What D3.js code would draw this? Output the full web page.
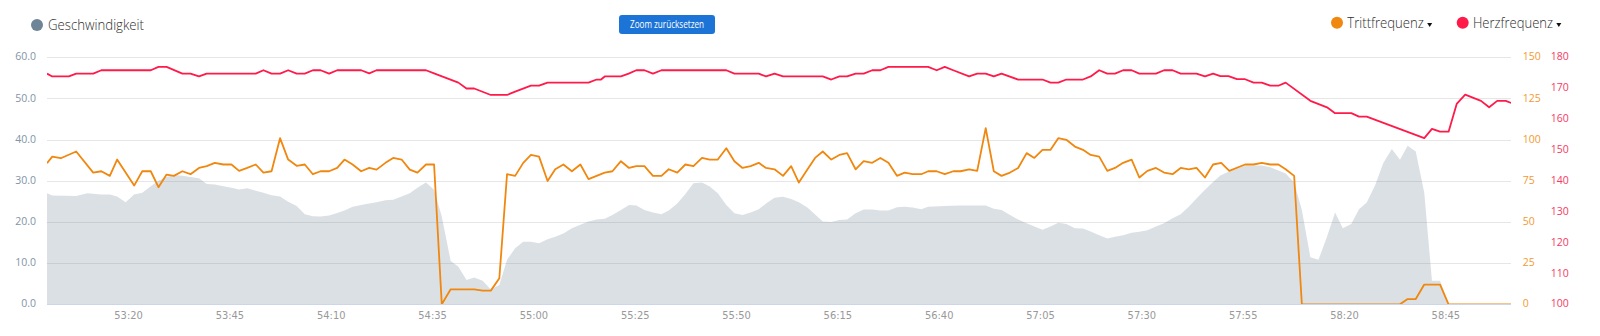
<!DOCTYPE html>
<html><head><meta charset="utf-8">
<script src="https://cdn.jsdelivr.net/npm/d3@7"></script>
<style>
html,body{margin:0;padding:0;background:#fff;}
svg{display:block;}
</style></head>
<body><svg id="chart" width="1600" height="336"></svg>
<script>
// ---- data (time = seconds after 53:00) ----
const startSeconds = 53 * 60;
const endOffset = 361.2;
const xTickLabels = ["53:20","53:45","54:10","54:35","55:00","55:25","55:50","56:15","56:40","57:05","57:30","57:55","58:20","58:45"];
const speedTicks = [0,10,20,30,40,50,60];
const cadenceTicks = [0,25,50,75,100,125,150];
const heartTicks = [100,110,120,130,140,150,160,170,180];

const speed = [
[0,27.0],[1.3,26.4],[7.2,26.3],[10,27.0],[13.4,26.7],[15.5,26.7],[17.3,26.2],[19.4,24.8],[21.5,26.7],[23.5,27.1],[25.6,28.7],[27.5,30.0],[29.5,30.9],[31.3,31.4],[33.4,31.2],[35.4,30.9],[37.5,30.6],[39.4,29.2],[41.4,29.1],[43.5,28.7],[45.5,28.3],[47.4,27.9],[49.4,28.2],[51.5,27.6],[53.4,27.1],[55.4,26.5],[57.5,26.2],[59.5,24.9],[61.6,23.9],[63.6,21.9],[65.6,21.4],[67.5,21.3],[69.6,21.6],[71.6,22.2],
[73.4,22.8],[75.4,23.7],[77.5,24.1],[79.5,24.5],[81.3,24.8],[83.5,25.3],[85.4,25.4],[87.5,26.2],[89.5,27.0],[91.4,28.3],[93.5,29.6],[95.5,27.8],[97.4,21.3],[99.6,10.5],[101.5,9.1],[103.5,5.9],[105.4,6.5],[107.5,5.7],[109.5,3.6],[111.6,4.7],[113.5,10.8],[115.5,13.6],[117.5,15.2],[119.4,15.2],[121.4,14.8],[123.5,15.8],[125.4,16.4],[127.4,17.2],[129.5,18.5],[131.6,19.3],[133.6,20.1],[135.6,20.6],[137.6,20.8],[139.5,21.7],[141.6,22.9],[143.6,24.1],
[145.4,24.0],[147.4,22.9],[149.5,22.3],[151.6,21.9],[153.4,22.8],[155.5,24.5],[157.5,26.8],[159.5,29.4],[161.6,29.6],[163.5,28.6],[165.5,27.0],[167.6,24.1],[169.6,22.1],[171.6,21.7],[173.6,22.3],[175.6,23.1],[177.4,24.5],[179.5,25.9],[181.6,26.1],[183.6,25.6],[185.5,24.8],[187.6,23.5],[189.5,21.8],[191.4,20.1],[193.5,20.0],[195.5,20.5],[197.4,20.6],[199.5,22.1],[201.5,23.0],[203.6,23.0],[205.6,22.8],[207.6,22.8],[209.7,23.6],[211.6,23.7],[213.6,23.5],[215.7,23.1],
[217.4,23.7],[221.5,23.9],[225.4,24.0],[229.5,24.0],[231.6,24.0],[233.6,23.2],[235.5,22.9],[237.6,21.7],[239.6,20.6],[241.7,19.7],[243.6,18.9],[245.6,18.1],[247.6,18.9],[249.5,19.8],[251.5,19.5],[253.6,18.5],[255.6,18.4],[257.5,17.7],[259.6,16.8],[261.6,16.0],[263.5,16.4],[265.5,16.8],[267.6,17.4],[269.5,17.6],[271.5,18.0],[273.6,18.9],[275.6,19.7],[277.7,20.9],[279.7,21.9],[281.7,23.7],[283.6,25.7],[285.7,27.8],[287.7,29.7],
[289.5,31.3],[291.5,32.2],[293.6,32.9],[295.6,33.7],[297.7,33.7],[299.7,33.7],[301.8,33.3],[303.8,32.5],[305.6,31.8],[307.7,29.6],[309.6,22.9],[311.7,11.4],[313.7,10.8],[315.8,16.4],[317.8,22.3],[319.7,18.5],[321.8,19.5],[323.7,23.1],[325.6,24.7],[327.7,29.0],[329.7,34.3],[331.8,37.7],[333.8,35.1],[335.7,38.5],[337.7,37.1],[339.8,27.1],[341.7,5.7],[343.7,5.7],[345.8,0],[361.5,0]
];

const cadence = [
[0,85.7],[1.3,89.7],[3.4,88.7],[7.2,92.8],[11.4,80.0],[13.4,80.8],[15.5,78.0],[17.3,87.9],[21.5,72.1],[23.5,80.8],[25.6,80.8],[27.5,71.1],[29.5,78.8],[31.3,78.0],[33.4,80.8],[35.4,79.0],[37.5,82.8],[39.4,83.9],[41.4,85.9],[43.5,84.9],[45.5,84.9],[47.4,81.0],[49.4,82.8],[51.5,84.9],[53.4,80.0],[55.4,80.8],[57.5,100.9],[59.5,87.9],[61.6,84.1],[63.6,84.9],[65.6,79.0],[67.5,80.8],[69.6,80.8],[71.6,82.8],
[73.4,87.9],[75.4,84.9],[77.5,80.8],[79.5,82.8],[81.3,81.8],[83.5,85.9],[85.4,88.9],[87.5,87.9],[89.5,81.8],[91.4,80.0],[93.5,84.9],[95.5,84.9],[97.4,0],[99.6,9.1],[105.4,9.1],[107.5,8.3],[109.5,8.3],[111.6,15.8],[113.5,79.0],[115.5,78.0],[117.5,85.9],[119.4,90.7],[121.4,89.7],[123.5,74.9],[125.4,82.0],[127.4,84.9],[129.5,80.8],[131.6,84.9],[133.6,76.0],[135.6,78.0],[137.6,80.0],[139.5,80.8],[141.6,86.9],[143.6,82.8],
[145.4,83.9],[147.4,83.9],[149.5,78.0],[151.6,78.0],[153.4,82.0],[155.5,80.0],[157.5,84.9],[159.5,83.9],[161.6,88.9],[163.5,87.9],[165.5,87.9],[167.6,94.8],[169.6,86.9],[171.6,82.8],[173.6,83.9],[175.6,85.9],[177.4,82.8],[179.5,82.0],[181.6,78.0],[183.6,83.9],[185.5,73.9],[187.6,81.8],[189.5,88.9],[191.4,92.8],[193.5,87.9],[195.5,90.7],[197.4,91.8],[199.5,82.0],[201.5,86.9],[203.6,85.9],[205.6,88.9],[207.6,85.9],[209.7,78.0],[211.6,80.0],[213.6,79.0],[215.7,79.0],
[217.4,80.8],[219.5,80.8],[221.5,79.0],[223.6,80.8],[225.4,80.8],[227.5,82.0],[229.5,81.0],[231.6,107.0],[233.6,80.8],[235.5,78.0],[237.6,80.0],[239.6,82.8],[241.7,91.8],[243.6,88.9],[245.6,93.8],[247.6,93.8],[249.5,100.9],[251.5,99.9],[253.6,95.8],[255.6,93.8],[257.5,90.7],[259.6,89.7],[261.6,81.0],[263.5,82.8],[265.5,85.9],[267.6,87.9],[269.5,77.0],[271.5,81.0],[273.6,82.8],[275.6,80.0],[277.7,79.0],[279.7,82.8],[281.7,82.0],[283.6,82.8],[285.7,77.0],[287.7,84.9],
[289.7,85.9],[291.7,81.0],[295.6,84.9],[297.7,84.9],[299.7,85.9],[301.8,84.9],[303.8,84.9],[305.6,82.0],[307.7,78.0],[309.6,0],[333.8,0],[335.7,3.2],[337.7,3.2],[339.8,12.0],[343.7,12.0],[345.8,0],[361.5,0]
];

const heartRate = [
[0,174.7],[1.3,173.8],[5.4,173.8],[7.2,174.7],[11.4,174.7],[13.4,175.8],[25.6,175.8],[27.5,176.9],[29.5,176.9],[33.4,174.7],[35.4,174.7],[37.5,173.8],[39.4,174.7],[51.5,174.7],[53.4,175.8],[55.4,174.7],[57.5,174.7],[59.5,175.8],[61.6,174.7],[63.6,174.7],[65.6,175.8],[67.5,175.8],[69.6,174.7],[71.6,175.8],
[77.5,175.8],[79.5,174.8],[81.3,175.8],[93.5,175.8],[95.5,174.8],[101.5,171.8],[103.5,169.9],[105.4,169.9],[109.5,167.8],[113.5,167.8],[115.5,168.9],[119.4,170.8],[121.4,170.8],[123.5,171.8],[133.6,171.8],[135.6,172.8],[136.7,172.8],[137.6,173.8],[141.6,173.8],
[143.5,174.7],[145.4,175.8],[147.4,175.8],[149.5,174.7],[151.6,175.8],[167.6,175.8],[169.6,174.7],[175.6,174.7],[177.4,173.8],[179.5,174.7],[181.6,173.8],[191.4,173.8],[193.5,172.8],[195.5,173.8],[197.4,173.8],[199.5,174.7],[201.5,174.7],[203.6,175.8],[205.6,175.8],[207.6,176.9],
[217.4,176.9],[219.5,175.8],[221.5,176.9],[223.6,175.8],[227.5,173.8],[229.5,174.7],[231.6,174.7],[233.6,173.8],[235.5,174.7],[239.6,172.8],[245.6,172.8],[247.6,171.8],[249.5,171.8],[251.5,172.8],[255.6,172.8],[257.5,173.8],[259.6,175.8],[261.6,174.7],[263.5,174.7],[265.5,175.8],[267.6,175.8],[269.5,174.7],[273.6,174.7],[275.6,175.8],[277.7,175.8],[279.7,174.7],[283.6,174.7],[285.7,173.8],[287.7,174.7],
[289.5,173.9],[291.5,173.9],[293.6,172.9],[295.6,172.9],[297.7,171.8],[299.7,171.8],[301.8,170.8],[303.8,170.8],[305.6,171.8],[311.7,165.9],[315.8,163.8],[317.8,161.9],[321.8,161.9],[323.7,160.8],[325.6,160.8],[339.8,153.8],[341.7,156.8],[343.7,155.9],[345.8,155.9],[347.8,164.9],[349.9,167.9],[353.8,165.9],[355.8,163.8],[357.8,165.9],[359.9,165.9],[361.5,165.1]
];

// ---- layout ----
const plot = {left: 47, right: 1511, top: 57.3, bottom: 304.3};
const colors = {speed: "#6e8497", cadence: "#f0870e", heart: "#ff1a4a",
  cadenceLabel: "#f39a32", heartLabel: "#f53a64", axisLabel: "#8294a6", grid: "#e6e6e6"};

const svg = d3.select("#chart");
const x = d3.scaleLinear().domain([startSeconds, startSeconds + endOffset]).range([plot.left, plot.right]);
const ySpeed = d3.scaleLinear().domain([0, 60]).range([plot.bottom, plot.top]);
const yCad = d3.scaleLinear().domain([0, 150]).range([plot.bottom, plot.top]);
const yHr = d3.scaleLinear().domain([100, 180]).range([plot.bottom, plot.top]);

const parseMS = s => { const [m, sec] = s.split(":").map(Number); return m * 60 + sec; };
const fmtMS = t => { const m = Math.floor(t / 60), s = Math.round(t - m * 60); return m + ":" + String(s).padStart(2, "0"); };

svg.append("defs").append("clipPath").attr("id", "clip")
  .append("rect").attr("x", plot.left).attr("y", plot.top)
  .attr("width", plot.right - plot.left).attr("height", plot.bottom - plot.top);

// gridlines
svg.append("g").selectAll("line").data(speedTicks).join("line")
  .attr("x1", plot.left).attr("x2", plot.right)
  .attr("y1", d => Math.round(ySpeed(d)) + 0.5).attr("y2", d => Math.round(ySpeed(d)) + 0.5)
  .attr("stroke", colors.grid).attr("stroke-width", 1);

const series = svg.append("g").attr("clip-path", "url(#clip)");

// speed area
series.append("path").datum(speed)
  .attr("d", d3.area().x(d => x(startSeconds + d[0])).y0(ySpeed(0)).y1(d => ySpeed(d[1])))
  .attr("fill", colors.speed).attr("fill-opacity", 0.25);

// bottom axis line
svg.append("line").attr("x1", plot.left).attr("x2", plot.right)
  .attr("y1", Math.round(plot.bottom) + 0.5).attr("y2", Math.round(plot.bottom) + 0.5)
  .attr("stroke", "#ccd6eb").attr("stroke-width", 1);

// cadence line
series.append("path").datum(cadence)
  .attr("d", d3.line().x(d => x(startSeconds + d[0])).y(d => yCad(d[1])))
  .attr("fill", "none").attr("stroke", colors.cadence).attr("stroke-width", 1.8)
  .attr("stroke-linejoin", "round");

// heart rate line
series.append("path").datum(heartRate)
  .attr("d", d3.line().x(d => x(startSeconds + d[0])).y(d => yHr(d[1])))
  .attr("fill", "none").attr("stroke", colors.heart).attr("stroke-width", 1.8)
  .attr("stroke-linejoin", "round");

// axes
const leftAxis = svg.append("g").attr("transform", `translate(${plot.left},0)`)
  .call(d3.axisLeft(ySpeed).tickValues(speedTicks).tickFormat(d3.format(".1f")).tickSize(0).tickPadding(11));
leftAxis.selectAll("text").attr("fill", colors.axisLabel).attr("font-family", "'Open Sans'").attr("font-size", 10.5).attr("dy", "0.25em");

const cadAxis = svg.append("g").attr("transform", `translate(${plot.right},0)`)
  .call(d3.axisRight(yCad).tickValues(cadenceTicks).tickSize(0).tickPadding(11.7));
cadAxis.selectAll("text").attr("fill", colors.cadenceLabel).attr("font-family", "'Open Sans'").attr("font-size", 10.5).attr("dy", "0.25em");

const hrAxis = svg.append("g").attr("transform", `translate(${plot.right},0)`)
  .call(d3.axisRight(yHr).tickValues(heartTicks).tickSize(0).tickPadding(39.7));
hrAxis.selectAll("text").attr("fill", colors.heartLabel).attr("font-family", "'Open Sans'").attr("font-size", 10.5).attr("dy", "0.25em");

const bottomAxis = svg.append("g").attr("transform", `translate(0,${plot.bottom})`)
  .call(d3.axisBottom(x).tickValues(xTickLabels.map(parseMS)).tickFormat(fmtMS).tickSize(0).tickPadding(7));
bottomAxis.selectAll("text").attr("fill", "#999").attr("font-family", "'Liberation Sans Narrow','DejaVu Sans Condensed',sans-serif").attr("font-size", 11);

[leftAxis, cadAxis, hrAxis, bottomAxis].forEach(g => g.select(".domain").remove());

// legend
const legendFont = "'Open Sans', sans-serif";
const lg = svg.append("g");
lg.append("circle").attr("cx", 37).attr("cy", 25).attr("r", 6).attr("fill", colors.speed);
lg.append("text").attr("x", 48).attr("y", 30.2).text("Geschwindigkeit")
  .attr("font-family", legendFont).attr("font-size", 14.5).attr("font-weight", 300).attr("fill", "#2e2e2e")
  .attr("textLength", 96).attr("lengthAdjust", "spacingAndGlyphs");

const rightLegend = [
  {name: "Trittfrequenz", color: colors.cadence, cx: 1337, w: 76.6},
  {name: "Herzfrequenz", color: colors.heart, cx: 1462.7, w: 80}
];
rightLegend.forEach(item => {
  lg.append("circle").attr("cx", item.cx).attr("cy", 22.7).attr("r", 6).attr("fill", item.color);
  lg.append("text").attr("x", item.cx + 10.3).attr("y", 28.2).text(item.name)
    .attr("font-family", legendFont).attr("font-size", 14.5).attr("font-weight", 300).attr("fill", "#2e2e2e")
    .attr("textLength", item.w).attr("lengthAdjust", "spacingAndGlyphs");
  const tx = item.cx + 10.3 + item.w + 3.3;
  lg.append("path").attr("d", `M${tx},23 L${tx + 5},23 L${tx + 2.5},27 Z`).attr("fill", "#111");
});

// reset zoom button
const btn = svg.append("g");
btn.append("rect").attr("x", 619).attr("y", 15).attr("width", 96).attr("height", 19).attr("rx", 3)
  .attr("fill", "#1c74d6");
btn.append("text").attr("x", 667).attr("y", 28.2).attr("text-anchor", "middle").text("Zoom zurücksetzen")
  .attr("font-family", legendFont).attr("font-size", 10).attr("fill", "#fff")
  .attr("textLength", 74).attr("lengthAdjust", "spacingAndGlyphs");
</script>
</body></html>
